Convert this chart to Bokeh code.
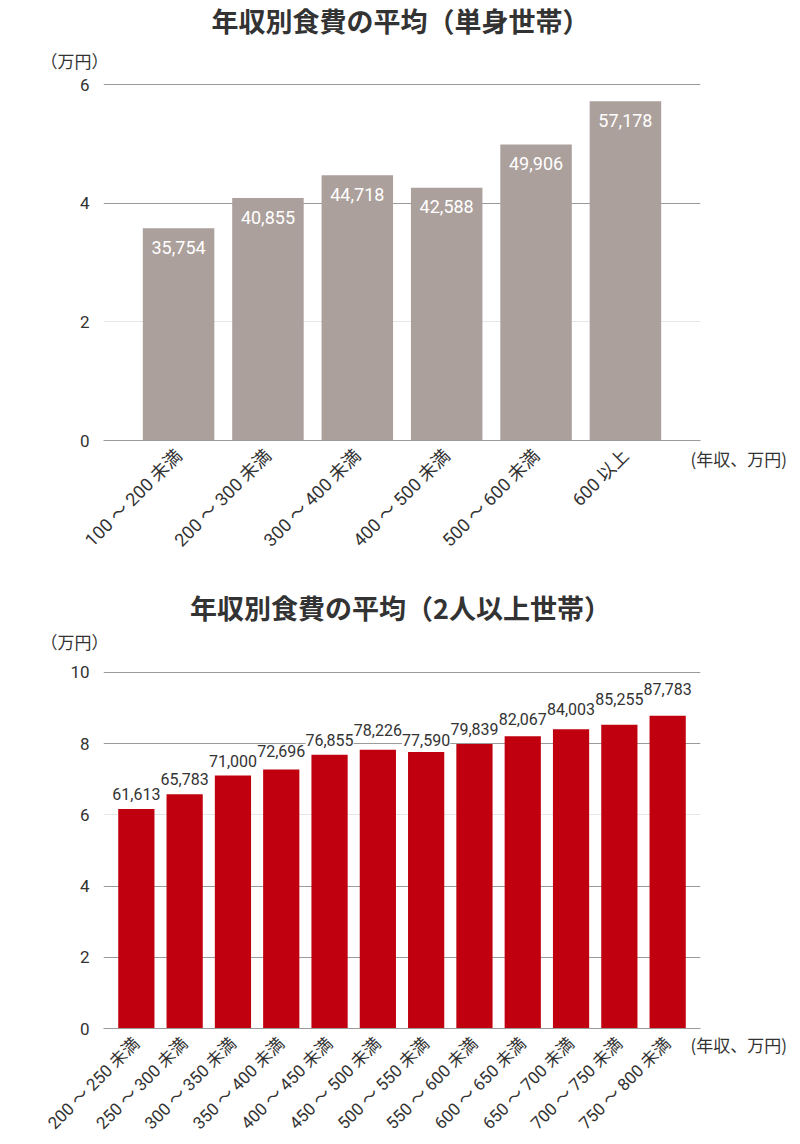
import math
from bokeh.plotting import figure
from bokeh.models import (ColumnDataSource, Range1d, FixedTicker, Grid, Label, LabelSet)
from bokeh.layouts import column
from bokeh.core.properties import value
from bokeh.embed import file_html
from bokeh.resources import INLINE

# ---------------- data ----------------
cats1 = ["100 ～ 200 未満", "200 ～ 300 未満", "300 ～ 400 未満", "400 ～ 500 未満",
         "500 ～ 600 未満", "600 以上"]
vals1 = [35754, 40855, 44718, 42588, 49906, 57178]
title1 = "年収別食費の平均（単身世帯）"
yticks1 = [0, 2, 4, 6]

cats2 = ["200 ～ 250 未満", "250 ～ 300 未満", "300 ～ 350 未満", "350 ～ 400 未満",
         "400 ～ 450 未満", "450 ～ 500 未満", "500 ～ 550 未満", "550 ～ 600 未満",
         "600 ～ 650 未満", "650 ～ 700 未満", "700 ～ 750 未満", "750 ～ 800 未満"]
vals2 = [61613, 65783, 71000, 72696, 76855, 78226, 77590, 79839, 82067, 84003, 85255, 87783]
title2 = "年収別食費の平均（2人以上世帯）"
yticks2 = [0, 2, 4, 6, 8, 10]

yunit = "（万円）"
xunit = "(年収、万円)"

NUM_FONT = "Roboto, Noto Sans CJK JP"
JP_FONT = "Noto Sans CJK JP"
TXT = "#333333"
GRID_DARK = "#9a9a9a"
GRID_LIGHT = "#e6e6e6"


def base_figure(h, border_top, border_bottom, xr, yr, ticks, light_ticks):
    p = figure(width=800, height=h, x_range=xr, y_range=yr,
               output_backend="svg", toolbar_location=None,
               min_border_left=103, min_border_right=100,
               min_border_top=border_top, min_border_bottom=border_bottom)
    p.outline_line_color = None
    p.background_fill_color = "white"
    p.xgrid.visible = False
    p.ygrid.ticker = FixedTicker(ticks=[t for t in ticks if t not in light_ticks])
    p.ygrid.grid_line_color = GRID_DARK
    p.ygrid.grid_line_width = 1
    g2 = Grid(dimension=1, ticker=FixedTicker(ticks=light_ticks),
              grid_line_color=GRID_LIGHT, grid_line_width=1)
    p.add_layout(g2, "center")

    p.yaxis.ticker = FixedTicker(ticks=ticks)
    p.yaxis.axis_line_color = None
    p.yaxis.major_tick_line_color = None
    p.yaxis.minor_tick_line_color = None
    p.yaxis.major_label_text_font = NUM_FONT
    p.yaxis.major_label_text_font_size = "17px"
    p.yaxis.major_label_text_color = TXT
    p.yaxis.major_label_standoff = 8

    p.xaxis.axis_line_color = GRID_DARK
    p.xaxis.major_tick_line_color = None
    p.xaxis.minor_tick_line_color = None
    p.xaxis.major_label_orientation = math.pi / 4
    p.xaxis.major_label_text_font = NUM_FONT
    p.xaxis.major_label_text_color = TXT
    p.xaxis.major_label_standoff = 6
    return p


def panel_label(p, side, x, y, text, size, align="left", bold=False):
    # screen units: relative to the panel slot the label is placed in
    p.add_layout(Label(x=x, y=y, x_units="screen", y_units="screen", text=text,
                       text_align=align, text_baseline="middle", text_font=JP_FONT,
                       text_font_style="bold" if bold else "normal",
                       text_font_size=size, text_color=TXT), side)


# ---------------- chart 1 ----------------
n1 = len(cats1)
x1 = list(range(n1))
y1 = [v / 10000 for v in vals1]
src1 = ColumnDataSource(dict(x=x1, top=y1, text=[f"{v:,}" for v in vals1]))

xr1 = Range1d(-0.84, n1 - 1 + 0.84)
p1 = base_figure(580, 83, 140, xr1, Range1d(0, 6 * 357 / 356), yticks1, [2])
p1.vbar(x="x", top="top", width=0.8, source=src1, color="#aca09c", line_color=None)
p1.xaxis.ticker = FixedTicker(ticks=x1)
p1.xaxis.major_label_overrides = {i: c for i, c in enumerate(cats1)}
p1.xaxis.major_label_text_font_size = "18px"
p1.add_layout(LabelSet(x="x", y="top", text="text", source=src1, y_offset=-19,
                       text_align="center", text_baseline="middle",
                       text_color="white", text_font=value(NUM_FONT),
                       text_font_size="18px"))
panel_label(p1, "above", -63, 23, yunit, "17px")
panel_label(p1, "above", 297, 38, title1, "27px", align="center", bold=True)
panel_label(p1, "right", -10, -18, xunit, "17px")

# ---------------- chart 2 ----------------
n2 = len(cats2)
x2 = list(range(n2))
y2 = [v / 10000 for v in vals2]

# label placement above bars with simple collision avoidance (pixels above the bar top)
px_per_unit = (1028 - 672) / 10.0
base_off, min_off, gap = 15.0, 11.0, 10.0
centers = []
for i, v in enumerate(y2):
    top_px = v * px_per_unit
    d = top_px + base_off
    if i > 0 and abs(d - centers[-1]) < gap:
        up = centers[-1] + gap
        down = centers[-1] - gap
        if down >= top_px + min_off and abs(down - d) < abs(up - d):
            d = down
        else:
            d = up
    centers.append(d)
offs = [c - v * px_per_unit for c, v in zip(centers, y2)]

src2 = ColumnDataSource(dict(x=x2, top=y2, text=[f"{v:,}" for v in vals2], off=offs))

xr2 = Range1d(-0.68, n2 - 1 + 0.68)
p2 = base_figure(564, 90, 116, xr2, Range1d(0, 10.05), yticks2, [6])
p2.vbar(x="x", top="top", width=0.75, source=src2, color="#c0000e", line_color=None)
p2.xaxis.ticker = FixedTicker(ticks=x2)
p2.xaxis.major_label_overrides = {i: c for i, c in enumerate(cats2)}
p2.xaxis.major_label_text_font_size = "17px"
p2.add_layout(LabelSet(x="x", y="top", text="text", source=src2, y_offset="off",
                       text_align="center", text_baseline="middle",
                       text_color=TXT, text_font=value(NUM_FONT),
                       text_font_size="16px",
                       background_fill_color="white"))
panel_label(p2, "above", -63, 29, yunit, "17px")
panel_label(p2, "above", 297, 38, title2, "27px", align="center", bold=True)
panel_label(p2, "right", -10, -16, xunit, "17px")

layout = column(p1, p2, spacing=0)
open("out.html", "w").write(file_html(layout, INLINE))
